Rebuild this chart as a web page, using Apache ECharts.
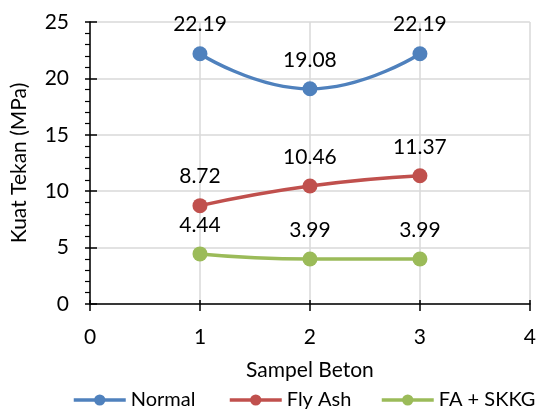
<!DOCTYPE html>
<html><head><meta charset="utf-8">
<script src="https://cdn.jsdelivr.net/npm/echarts@6/dist/echarts.min.js"></script>
<style>html,body{margin:0;padding:0;background:#fff}#c{width:539px;height:412px}</style>
</head><body><div id="c"></div>
<script>
const xValues = [1, 2, 3];
const seriesNames = ['Normal', 'Fly Ash', 'FA + SKKG'];
const normal = [22.19, 19.08, 22.19];
const flyAsh = [8.72, 10.46, 11.37];
const faSkkg = [4.44, 3.99, 3.99];
const colors = ['#4F81BD', '#C0504D', '#9BBB59'];
const font = 'Lato, "Open Sans", sans-serif';
const fs = 21;

const allData = [normal, flyAsh, faSkkg];
const legendLeft = [72, 228, 380];
const chart = echarts.init(document.getElementById('c'));
chart.setOption({
  animation: false,
  textStyle: {fontFamily: font},
  grid: {left: 90, right: 6, top: 22, bottom: 108, containLabel: false},
  legend: seriesNames.map((n, i) => ({
    top: 390, left: legendLeft[i], padding: 0, itemWidth: 52, itemHeight: 14, itemGap: 0,
    lineStyle: {width: 3.5},
    textStyle: {fontFamily: font, fontSize: 20, color: '#000'},
    data: [n]
  })),
  xAxis: [{
    type: 'value', min: 0, max: 4, interval: 1,
    name: 'Sampel Beton', nameLocation: 'middle', nameGap: 56,
    nameTextStyle: {fontFamily: font, fontSize: fs, color: '#000'},
    axisLine: {show: true, lineStyle: {color: '#000', width: 1.5}},
    axisTick: {show: true, length: 7, lineStyle: {color: '#000', width: 1.5}},
    axisLabel: {fontFamily: font, fontSize: fs, color: '#000', margin: 23},
    splitLine: {show: true, lineStyle: {color: '#d9d9d9', width: 1.5}}
  }, {
    type: 'value', min: 0, max: 4, interval: 1, position: 'bottom', offset: 0,
    axisLine: {show: false},
    axisTick: {show: true, inside: true, length: 4, lineStyle: {color: '#000', width: 1.5}},
    axisLabel: {show: false},
    splitLine: {show: false}
  }],
  yAxis: [{
    type: 'value', min: 0, max: 25, interval: 5,
    name: 'Kuat Tekan (MPa)', nameLocation: 'middle', nameGap: 60, nameRotate: 90,
    nameTextStyle: {fontFamily: font, fontSize: fs, color: '#000'},
    axisLine: {show: true, lineStyle: {color: '#000', width: 1.5}},
    axisTick: {show: true, length: 5, lineStyle: {color: '#000', width: 1.5}},
    minorTick: {show: true, splitNumber: 5, length: 5, lineStyle: {color: '#000', width: 1.2}},
    axisLabel: {fontFamily: font, fontSize: fs, color: '#000', margin: 21},
    splitLine: {show: true, lineStyle: {color: '#d9d9d9', width: 1.5}}
  }, {
    type: 'value', min: 0, max: 25, interval: 5, position: 'left', offset: 0,
    axisLine: {show: false},
    axisTick: {show: true, inside: true, length: 7, lineStyle: {color: '#000', width: 1.5}},
    axisLabel: {show: false},
    splitLine: {show: false}
  }],
  series: seriesNames.map((n, i) => ({
    name: n, type: 'line', smooth: true, xAxisIndex: 0, yAxisIndex: 0,
    data: xValues.map((x, j) => [x, allData[i][j]]),
    symbol: 'circle', symbolSize: 15,
    lineStyle: {color: colors[i], width: 3.5},
    itemStyle: {color: colors[i]},
    label: {show: true, position: 'top', distance: 11, fontFamily: font, fontSize: fs, color: '#000',
      formatter: p => p.value[1].toFixed(2)}
  }))
});
</script></body></html>
